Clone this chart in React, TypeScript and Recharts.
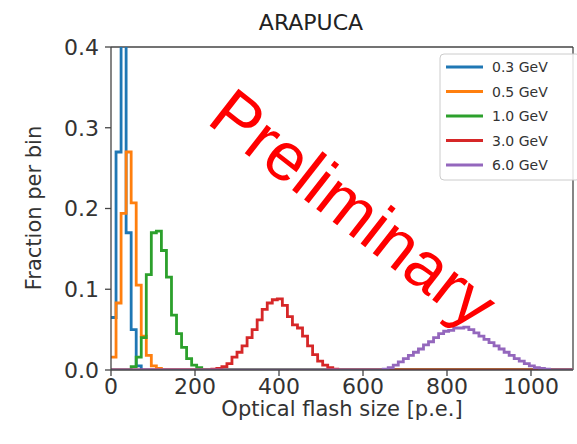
import { LineChart, Line, XAxis, YAxis, ReferenceLine } from "recharts";

const BIN_WIDTH = 12;
const N_BINS = 92;

const energyLabels = ["0.3 GeV", "0.5 GeV", "1.0 GeV", "3.0 GeV", "6.0 GeV"];
const COLORS = ["#1f77b4", "#ff7f0e", "#2ca02c", "#d62728", "#9467bd"];

const xTicks = [0, 200, 400, 600, 800, 1000];
const yTicks = [0, 0.1, 0.2, 0.3, 0.4];

// fraction per bin, starting at bin index *Start (bins outside are empty)
const gev03Start = 0;
const gev03 = [0.065, 0.27, 0.44, 0.17, 0.05, 0.005];

const gev05Start = 0;
const gev05 = [0.016, 0.083, 0.194, 0.27, 0.207, 0.105, 0.042, 0.018, 0.005, 0.002];

const gev10Start = 4;
const gev10 = [0.004, 0.016, 0.04, 0.118, 0.17, 0.172, 0.148, 0.115, 0.068, 0.045, 0.028, 0.014, 0.006, 0.003];

const gev30Start = 20;
const gev30 = [
  0.001, 0.002, 0.004, 0.008, 0.016, 0.022, 0.03, 0.04, 0.05, 0.062, 0.075, 0.083, 0.087,
  0.088, 0.08, 0.066, 0.056, 0.052, 0.042, 0.03, 0.019, 0.011, 0.006, 0.003, 0.001,
];

const gev60Start = 54;
const gev60 = [
  0.001, 0.003, 0.006, 0.01, 0.014, 0.018, 0.022, 0.026, 0.031, 0.035, 0.04, 0.045, 0.048,
  0.049, 0.052, 0.052, 0.053, 0.05, 0.046, 0.042, 0.038, 0.034, 0.03, 0.026, 0.022, 0.018,
  0.014, 0.011, 0.008, 0.005, 0.003, 0.002, 0.001,
];

const series = [
  { key: "gev03", start: gev03Start, values: gev03 },
  { key: "gev05", start: gev05Start, values: gev05 },
  { key: "gev10", start: gev10Start, values: gev10 },
  { key: "gev30", start: gev30Start, values: gev30 },
  { key: "gev60", start: gev60Start, values: gev60 },
];

// one row per bin edge; the last edge repeats the last bin so the step closes
const rows = Array.from({ length: N_BINS + 1 }, (_, k) => {
  const row: Record<string, number> = { edge: k * BIN_WIDTH };
  series.forEach((s) => {
    const i = Math.min(k, N_BINS - 1) - s.start;
    row[s.key] = i >= 0 && i < s.values.length ? s.values[i] : 0;
  });
  return row;
});

const FONT = "DejaVu Sans, sans-serif";
const AXIS = "#444";

function Overlay() {
  return (
    <svg
      width={577}
      height={444}
      style={{ position: "absolute", left: 0, top: 0, pointerEvents: "none" }}
    >
      <text x={311} y={30} textAnchor="middle" fontSize={22} fill="#222" fontFamily={FONT}>
        ARAPUCA
      </text>
      <text x={342} y={416} textAnchor="middle" fontSize={21} fill="#333" fontFamily={FONT}>
        Optical flash size [p.e.]
      </text>
      <text
        x={34}
        y={208}
        textAnchor="middle"
        dominantBaseline="central"
        fontSize={21}
        fill="#333"
        fontFamily={FONT}
        transform="rotate(-90, 34, 208)"
      >
        Fraction per bin
      </text>

      <rect x={440} y={54} width={140} height={126} rx={4} fill="#fff" fillOpacity={0.85} stroke="#ccc" />
      {energyLabels.map((label, i) => (
        <g key={label}>
          <line x1={446} x2={483} y1={67 + i * 24.5} y2={67 + i * 24.5} stroke={COLORS[i]} strokeWidth={3} />
          <text
            x={492}
            y={67 + i * 24.5}
            dominantBaseline="central"
            fontSize={14}
            fill="#333"
            fontFamily={FONT}
          >
            {label}
          </text>
        </g>
      ))}

      <text
        x={354}
        y={208}
        textAnchor="middle"
        dominantBaseline="central"
        fontSize={68}
        fill="#ff0000"
        fontFamily="Liberation Sans, Arial, sans-serif"
        transform="rotate(38, 354, 208)"
      >
        Preliminary
      </text>
    </svg>
  );
}

export default function App() {
  return (
    <div style={{ position: "relative", width: 577, height: 444, background: "#fff" }}>
      <style>{`body{margin:0}`}</style>
      <LineChart width={577} height={444} data={rows} margin={{ top: 47, right: 4, bottom: 0, left: 0 }}>
        <XAxis
          dataKey="edge"
          type="number"
          domain={[0, 1100]}
          ticks={xTicks}
          allowDataOverflow
          height={74}
          tickSize={6}
          stroke={AXIS}
          strokeWidth={1.3}
          tick={{ fontSize: 22, fill: "#333", fontFamily: FONT }}
        />
        <YAxis
          type="number"
          domain={[0, 0.4]}
          ticks={yTicks}
          allowDataOverflow
          width={111}
          tickSize={6}
          stroke={AXIS}
          strokeWidth={1.3}
          tickFormatter={(v: number) => v.toFixed(1)}
          tick={{ fontSize: 22, fill: "#333", fontFamily: FONT, dx: -4 }}
        />
        <ReferenceLine y={0.4} stroke={AXIS} strokeWidth={1.3} />
        <ReferenceLine x={1100} stroke={AXIS} strokeWidth={1.3} />
        {series.map((s, i) => (
          <Line
            key={s.key}
            dataKey={s.key}
            type="stepAfter"
            stroke={COLORS[i]}
            strokeWidth={2.8}
            dot={false}
            isAnimationActive={false}
          />
        ))}
      </LineChart>
      <Overlay />
    </div>
  );
}
